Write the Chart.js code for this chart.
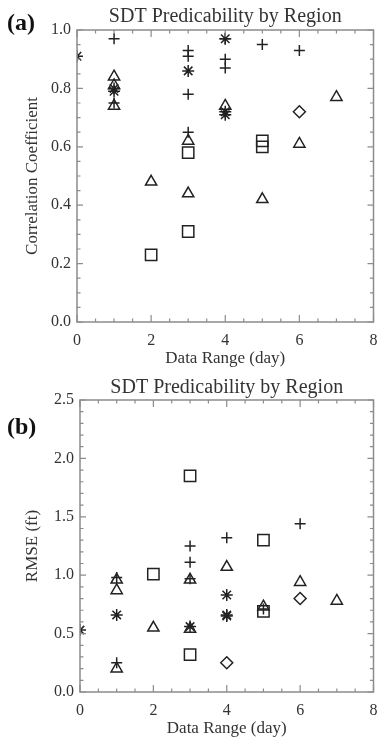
<!DOCTYPE html>
<html>
<head>
<meta charset="utf-8">
<script src="https://cdn.jsdelivr.net/npm/chart.js@4.4.0/dist/chart.umd.min.js"></script>
<style>
  html, body { margin: 0; padding: 0; background: #fff; }
  #page { position: relative; width: 383px; height: 740px; overflow: hidden; }
  .panel { position: absolute; left: 0; width: 383px; height: 370px; }
  .tag { position: absolute; left: 7px; font: bold 24px "Liberation Serif", serif; color: #111; }
</style>
</head>
<body>
<div id="page">
  <div class="panel" style="top:0"><canvas id="corr-chart" width="383" height="370"></canvas></div>
  <div class="panel" style="top:370px"><canvas id="rmse-chart" width="383" height="370"></canvas></div>
  <div class="tag" style="top:9px">(a)</div>
  <div class="tag" style="top:413px">(b)</div>
</div>
<script>
// (a) correlation coefficient, by marker symbol
var corrPlusDays = [1, 1, 3, 3, 3, 3, 4, 4, 4, 5, 6];
var corrPlusVals = [0.97, 0.75, 0.93, 0.91, 0.78, 0.65, 0.97, 0.90, 0.87, 0.95, 0.93];
var corrStarDays = [0, 1, 1, 3, 4, 4, 4];
var corrStarVals = [0.91, 0.80, 0.79, 0.86, 0.97, 0.72, 0.71];
var corrTriDays = [1, 1, 1, 2, 3, 3, 4, 5, 6, 7];
var corrTriVals = [0.84, 0.81, 0.74, 0.48, 0.62, 0.44, 0.74, 0.42, 0.61, 0.77];
var corrSquareDays = [2, 3, 3, 5, 5];
var corrSquareVals = [0.23, 0.58, 0.31, 0.62, 0.60];
var corrDiamondDays = [6];
var corrDiamondVals = [0.72];

// (b) RMSE (ft), by marker symbol
var rmsePlusDays = [1, 1, 3, 3, 3, 4, 5, 6];
var rmsePlusVals = [0.98, 0.25, 1.25, 1.11, 0.97, 1.32, 0.71, 1.44];
var rmseStarDays = [0, 1, 3, 4, 4, 4];
var rmseStarVals = [0.53, 0.66, 0.56, 0.83, 0.66, 0.65];
var rmseTriDays = [1, 1, 1, 2, 3, 3, 4, 5, 6, 7];
var rmseTriVals = [0.96, 0.87, 0.20, 0.55, 0.96, 0.54, 1.07, 0.73, 0.94, 0.78];
var rmseSquareDays = [2, 3, 3, 5, 5];
var rmseSquareVals = [1.01, 1.85, 0.32, 1.30, 0.69];
var rmseDiamondDays = [4, 6];
var rmseDiamondVals = [0.25, 0.80];

var titleText = 'SDT Predicability by Region';
var xTitle = 'Data Range (day)';
var serif = '"Liberation Serif", "Times New Roman", serif';
var ink = '#222';

function toPoints(days, vals){
    var pts = [];
    for (var i = 0; i < days.length; i++){
        pts.push({x: days[i], y: vals[i]});
    }
    return pts;
}

function series(days, vals, style, radius){
    return {
        data: toPoints(days, vals),
        pointStyle: style,
        pointRadius: radius,
        pointBorderColor: ink,
        pointBackgroundColor: 'rgba(0,0,0,0)',
        pointBorderWidth: 1.5,
        showLine: false
    };
}

// IDL style box with inward ticks on all four sides
var boxTicks = {
    id: 'boxTicks',
    afterDatasetsDraw: function(chart, args, opts){
        var ctx = chart.ctx, a = chart.chartArea;
        var xs = chart.scales.x, ys = chart.scales.y;
        ctx.save();
        ctx.strokeStyle = '#8c8c8c';
        ctx.lineWidth = 1.5;
        ctx.strokeRect(a.left, a.top, a.right - a.left, a.bottom - a.top);
        ctx.lineWidth = 1.2;
        ctx.beginPath();
        var n = Math.round((xs.max - xs.min) / opts.xMinor);
        for (var i = 0; i <= n; i++){
            var v = xs.min + i * opts.xMinor;
            var px = xs.getPixelForValue(v);
            var len = (Math.abs(v / opts.xMajor - Math.round(v / opts.xMajor)) < 1e-6) ? 7 : 3.5;
            ctx.moveTo(px, a.bottom); ctx.lineTo(px, a.bottom - len);
            ctx.moveTo(px, a.top); ctx.lineTo(px, a.top + len);
        }
        n = Math.round((ys.max - ys.min) / opts.yMinor);
        for (var j = 0; j <= n; j++){
            var w = ys.min + j * opts.yMinor;
            var py = ys.getPixelForValue(w);
            var l2 = (Math.abs(w / opts.yMajor - Math.round(w / opts.yMajor)) < 1e-6) ? 6 : 3.5;
            ctx.moveTo(a.left, py); ctx.lineTo(a.left + l2, py);
            ctx.moveTo(a.right, py); ctx.lineTo(a.right - l2, py);
        }
        ctx.stroke();
        ctx.restore();
    }
};

function makeChart(id, datasets, yMax, yStep, yMinor, yTitle, padRight, titlePad){
    return new Chart(document.getElementById(id), {
        type: 'scatter',
        data: {datasets: datasets},
        plugins: [boxTicks],
        options: {
            responsive: false,
            animation: false,
            events: [],
            layout: {padding: {left: 0, right: padRight, top: 0, bottom: 0}},
            plugins: {
                legend: {display: false},
                tooltip: {enabled: false},
                title: {
                    display: true,
                    text: titleText,
                    fullSize: false,
                    color: '#333',
                    font: {family: serif, size: 20, weight: 'normal'},
                    padding: titlePad
                },
                boxTicks: {xMajor: 2, xMinor: 0.5, yMajor: yStep, yMinor: yMinor}
            },
            scales: {
                x: {
                    type: 'linear',
                    min: 0, max: 8,
                    grid: {display: false, drawTicks: false},
                    border: {display: false},
                    ticks: {stepSize: 2, color: '#333', padding: 9,
                            font: {family: serif, size: 16}},
                    title: {display: true, text: xTitle, color: '#333',
                            font: {family: serif, size: 17}, padding: {top: 0, bottom: 1}},
                    afterFit: function(s){ s.height = 48; s.paddingLeft = 0; s.paddingRight = 0; }
                },
                y: {
                    min: 0, max: yMax,
                    grid: {display: false, drawTicks: false},
                    border: {display: false},
                    ticks: {stepSize: yStep, color: '#333', padding: 6,
                            font: {family: serif, size: 16},
                            callback: function(v){ return v.toFixed(1); }},
                    title: {display: true, text: yTitle, color: '#333',
                            font: {family: serif, size: 17}, padding: {top: 22, bottom: 0}},
                    afterFit: function(s){ s.width = id === 'corr-chart' ? 77 : 80; }
                }
            }
        }
    });
}

makeChart('corr-chart', [
    series(corrPlusDays, corrPlusVals, 'cross', 5.5),
    series(corrStarDays, corrStarVals, 'star', 6),
    series(corrTriDays, corrTriVals, 'triangle', 6.5),
    series(corrSquareDays, corrSquareVals, 'rect', 8),
    series(corrDiamondDays, corrDiamondVals, 'rectRot', 6)
], 1.0, 0.2, 0.05, 'Correlation Coefficient', 5, {top: 5, bottom: 1});

makeChart('rmse-chart', [
    series(rmsePlusDays, rmsePlusVals, 'cross', 5.5),
    series(rmseStarDays, rmseStarVals, 'star', 6),
    series(rmseTriDays, rmseTriVals, 'triangle', 6.5),
    series(rmseSquareDays, rmseSquareVals, 'rect', 8),
    series(rmseDiamondDays, rmseDiamondVals, 'rectRot', 6)
], 2.5, 0.5, 0.1, 'RMSE (ft)', 2, {top: 6, bottom: 0});
</script>
</body>
</html>
